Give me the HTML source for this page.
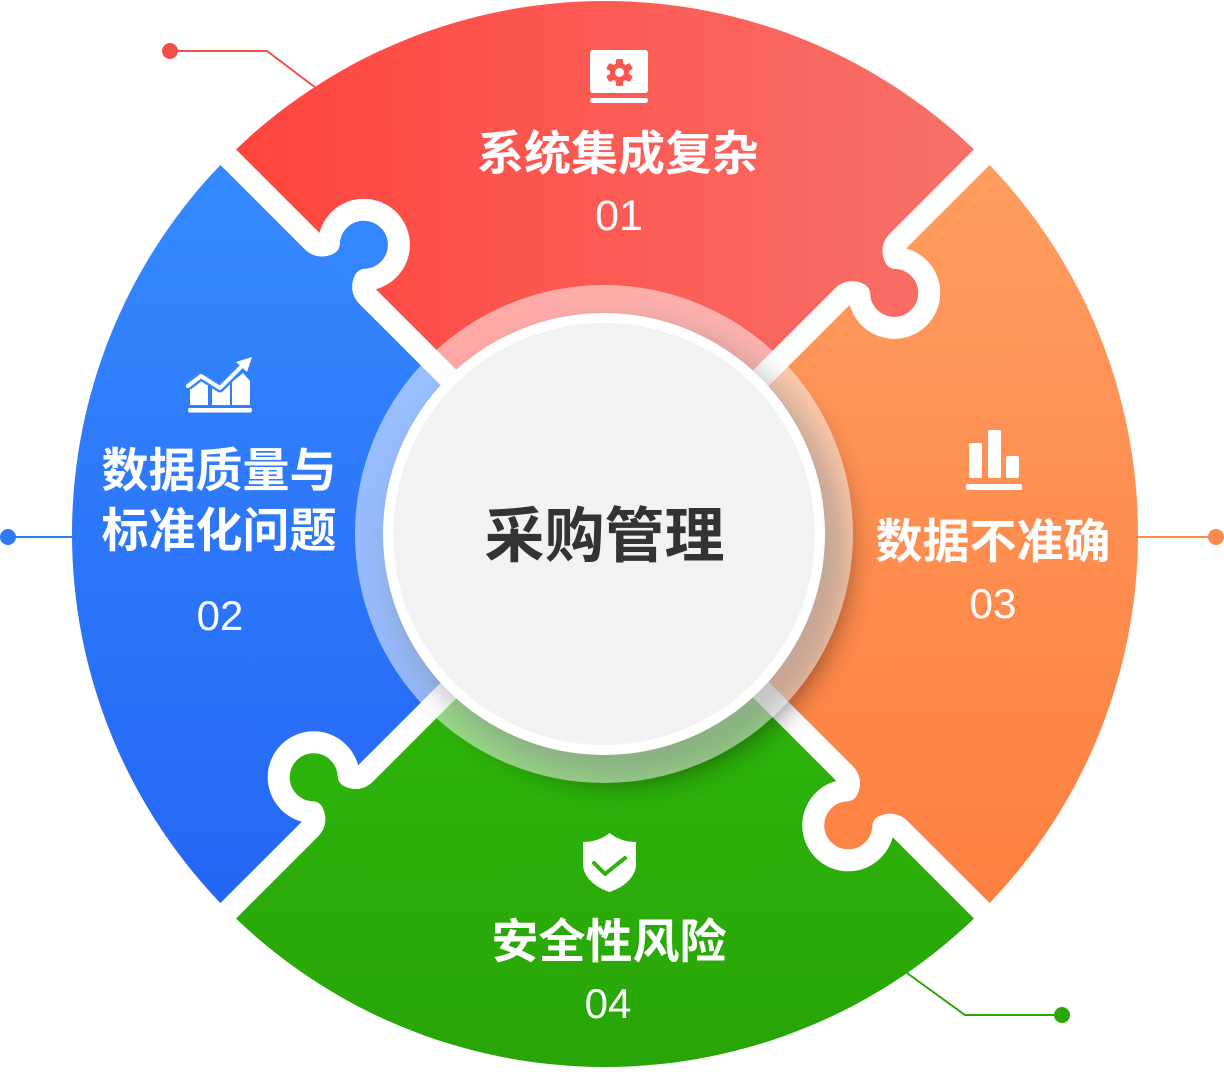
<!DOCTYPE html>
<html>
<head>
<meta charset="utf-8">
<style>
  html, body { margin: 0; padding: 0; background: #ffffff; width: 1224px; height: 1072px; overflow: hidden; }
  svg { display: block; }
  .t { font-family: "Liberation Sans", "Noto Sans CJK SC", sans-serif; font-weight: bold; fill: #ffffff; }
  .n { font-family: "Liberation Sans", "Noto Sans CJK SC", sans-serif; font-weight: normal; fill: #ffffff; }
</style>
</head>
<body>
<svg width="1224" height="1072" viewBox="0 0 1224 1072" xmlns="http://www.w3.org/2000/svg">
  <defs>
    <clipPath id="outer"><circle cx="605" cy="534" r="533"/></clipPath>
    <linearGradient id="gRed" gradientUnits="userSpaceOnUse" x1="240" y1="0" x2="970" y2="0">
      <stop offset="0" stop-color="#ff443e"/>
      <stop offset="1" stop-color="#f8716a"/>
    </linearGradient>
    <linearGradient id="gBlue" gradientUnits="userSpaceOnUse" x1="0" y1="170" x2="0" y2="900">
      <stop offset="0" stop-color="#3589ff"/>
      <stop offset="1" stop-color="#2466f4"/>
    </linearGradient>
    <linearGradient id="gOrange" gradientUnits="userSpaceOnUse" x1="0" y1="170" x2="0" y2="900">
      <stop offset="0" stop-color="#ff9c60"/>
      <stop offset="1" stop-color="#fd8040"/>
    </linearGradient>
    <linearGradient id="gGreen" gradientUnits="userSpaceOnUse" x1="0" y1="690" x2="0" y2="1066">
      <stop offset="0" stop-color="#2eb40c"/>
      <stop offset="1" stop-color="#28a508"/>
    </linearGradient>
    <filter id="sh" x="-30%" y="-30%" width="160%" height="160%">
      <feGaussianBlur stdDeviation="14"/>
    </filter>
  </defs>

  <!-- leader lines -->
  <polyline points="170,51 267,51 320,91" fill="none" stroke="#f4504a" stroke-width="2"/>
  <circle cx="170" cy="51" r="8" fill="#f4504a"/>
  <line x1="8" y1="537" x2="90" y2="537" stroke="#2f7bf5" stroke-width="2"/>
  <circle cx="8" cy="537" r="8" fill="#2f7bf5"/>
  <line x1="1120" y1="537" x2="1216" y2="537" stroke="#fb8a4c" stroke-width="2"/>
  <circle cx="1216" cy="537" r="8" fill="#fb8a4c"/>
  <polyline points="900,968 965,1015 1062,1015" fill="none" stroke="#2aa70a" stroke-width="2"/>
  <circle cx="1062" cy="1015" r="8" fill="#2aa70a"/>

  <!-- pieces -->
  <g clip-path="url(#outer)">
    <polygon points="605,534 71,0 1139,0" fill="url(#gRed)"/>
    <polygon points="605,534 1139,0 1224,0 1224,1072 1143,1072" fill="url(#gOrange)"/>
    <polygon points="605,534 1143,1072 67,1072" fill="url(#gGreen)"/>
    <polygon points="605,534 67,1072 0,1072 0,0 71,0" fill="url(#gBlue)"/>
  </g>

  <!-- knobs + white gaps -->
  <g transform="translate(605,534) rotate(225)">
    <path d="M336 -3 L336 0 Q346 0 349.5 10 A35 35 0 1 0 400.5 10 Q404 0 414 0 L414 -3 Z" fill="#3386fe"/>
    <path d="M0 0 L336 0 Q346 0 349.5 10 A35 35 0 1 0 400.5 10 Q404 0 414 0 L560 0" fill="none" stroke="#ffffff" stroke-width="22" stroke-linejoin="round"/>
  </g>
  <g transform="translate(605,534) rotate(-45)">
    <path d="M336 -3 L336 0 Q346 0 349.5 10 A35 35 0 1 0 400.5 10 Q404 0 414 0 L414 -3 Z" fill="#f96b63"/>
    <path d="M0 0 L336 0 Q346 0 349.5 10 A35 35 0 1 0 400.5 10 Q404 0 414 0 L560 0" fill="none" stroke="#ffffff" stroke-width="22" stroke-linejoin="round"/>
  </g>
  <g transform="translate(605,534) rotate(45)">
    <path d="M339 -3 L339 0 Q349 0 352.5 10 A35 35 0 1 0 403.5 10 Q407 0 417 0 L417 -3 Z" fill="#fd8444"/>
    <path d="M0 0 L339 0 Q349 0 352.5 10 A35 35 0 1 0 403.5 10 Q407 0 417 0 L560 0" fill="none" stroke="#ffffff" stroke-width="22" stroke-linejoin="round"/>
  </g>
  <g transform="translate(605,534) rotate(135)">
    <path d="M339 -3 L339 0 Q349 0 352.5 10 A35 35 0 1 0 403.5 10 Q407 0 417 0 L417 -3 Z" fill="#2db20b"/>
    <path d="M0 0 L339 0 Q349 0 352.5 10 A35 35 0 1 0 403.5 10 Q407 0 417 0 L560 0" fill="none" stroke="#ffffff" stroke-width="22" stroke-linejoin="round"/>
  </g>

  <!-- center -->
  <circle cx="620" cy="552" r="228" fill="#000000" opacity="0.45" filter="url(#sh)"/>
  <circle cx="604" cy="534" r="249" fill="#ffffff" fill-opacity="0.5"/>
  <circle cx="604" cy="534" r="221" fill="#ffffff"/>
  <circle cx="604" cy="534" r="211" fill="#f2f2f2"/>
  <text x="604.5" y="557" text-anchor="middle" class="t" style="font-size:60px;fill:#333333;">采购管理</text>

  <!-- red icon: monitor with gear -->
  <rect x="590" y="50" width="58" height="43" rx="3" fill="#ffffff"/>
  <rect x="590" y="98" width="58" height="5" rx="2.5" fill="#ffffff"/>
  <g transform="translate(619.5,72.5)" fill="#fd5650">
    <circle r="9.5"/>
    <rect x="-3.5" y="-13.5" width="7" height="8" rx="1.5"/>
    <rect x="-3.5" y="-13.5" width="7" height="8" rx="1.5" transform="rotate(60)"/>
    <rect x="-3.5" y="-13.5" width="7" height="8" rx="1.5" transform="rotate(120)"/>
    <rect x="-3.5" y="-13.5" width="7" height="8" rx="1.5" transform="rotate(180)"/>
    <rect x="-3.5" y="-13.5" width="7" height="8" rx="1.5" transform="rotate(240)"/>
    <rect x="-3.5" y="-13.5" width="7" height="8" rx="1.5" transform="rotate(300)"/>
    <circle r="4.5" fill="#ffffff"/>
  </g>
  <text x="618" y="170" text-anchor="middle" class="t" style="font-size:47px;">系统集成复杂</text>
  <text x="619" y="230" text-anchor="middle" class="n" style="font-size:43px;">01</text>

  <!-- blue icon: chart -->
  <g fill="#ffffff">
    <polygon points="190,405 190,389 202,381 208,384 208,405"/>
    <polygon points="212,405 212,387 220,392 230,384 230,405"/>
    <polygon points="232,405 232,382 243,373 250,381 250,405"/>
    <rect x="188" y="408" width="64" height="4.5" rx="2"/>
  </g>
  <polyline points="188,386 201,376 220,388 242,366" fill="none" stroke="#3388fe" stroke-width="9" stroke-linejoin="round"/>
  <polyline points="188,386 201,376 220,388 244,364" fill="none" stroke="#ffffff" stroke-width="4" stroke-linejoin="round" stroke-linecap="round"/>
  <polygon points="252,357 236,362 247,372" fill="#ffffff"/>
  <text x="219" y="487" text-anchor="middle" class="t" style="font-size:47px;">数据质量与</text>
  <text x="219" y="547" text-anchor="middle" class="t" style="font-size:47px;">标准化问题</text>
  <text x="220" y="630" text-anchor="middle" class="n" style="font-size:42px;">02</text>

  <!-- orange icon: bars -->
  <g fill="#ffffff">
    <rect x="969" y="443" width="13" height="35" rx="2"/>
    <rect x="988" y="430" width="13" height="48" rx="2"/>
    <rect x="1006" y="456" width="13" height="22" rx="2"/>
    <rect x="966" y="484" width="56" height="6" rx="2"/>
  </g>
  <text x="993" y="558" text-anchor="middle" class="t" style="font-size:47px;">数据不准确</text>
  <text x="993" y="618" text-anchor="middle" class="n" style="font-size:42px;">03</text>

  <!-- green icon: shield -->
  <path d="M609.5 833 C601 840 591 842 583 842 L583 864 C583 878 597 888 609.5 892 C622 888 636 878 636 864 L636 842 C628 842 618 840 609.5 833 Z" fill="#ffffff"/>
  <polyline points="594,863 605,874 625,858" fill="none" stroke="#2db20c" stroke-width="4" stroke-linecap="round" stroke-linejoin="round"/>
  <text x="609" y="958" text-anchor="middle" class="t" style="font-size:47px;">安全性风险</text>
  <text x="608" y="1018" text-anchor="middle" class="n" style="font-size:42px;">04</text>
</svg>
</body>
</html>
